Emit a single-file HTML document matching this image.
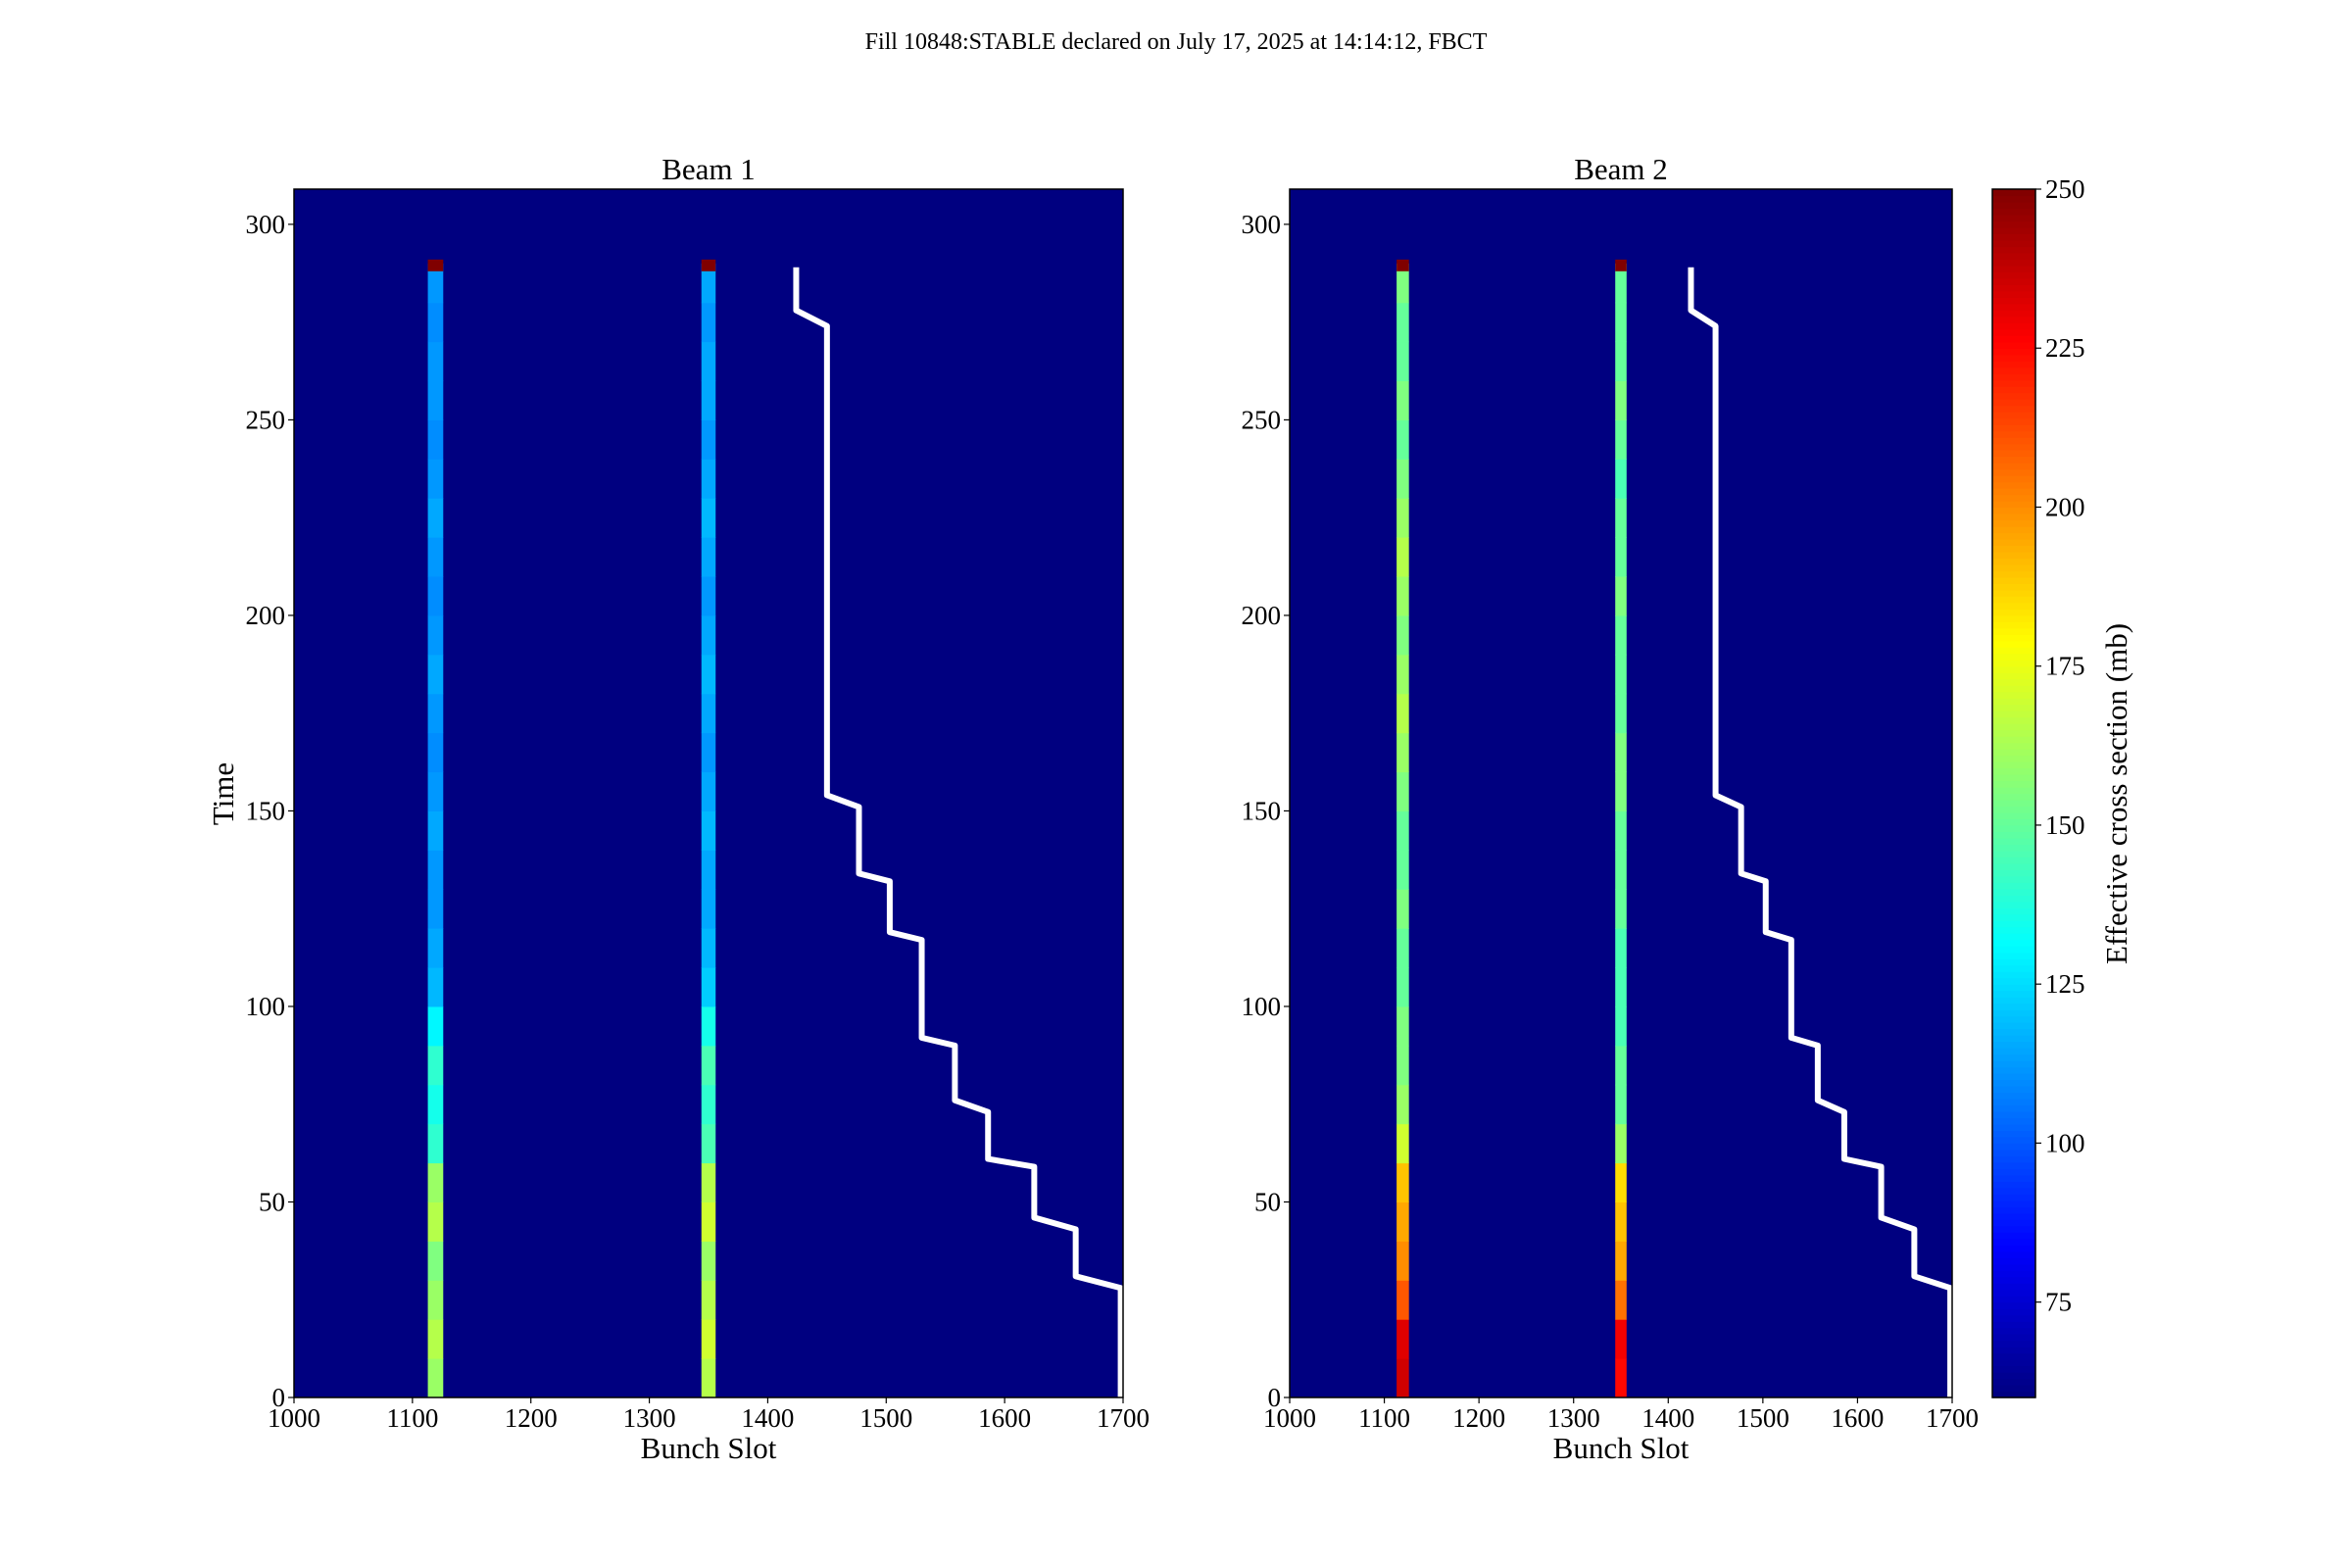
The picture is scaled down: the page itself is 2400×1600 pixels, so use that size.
<!DOCTYPE html>
<html><head><meta charset="utf-8"><style>
body{margin:0;background:#fff}
svg{display:block;font-family:"Liberation Serif",serif}
</style></head><body>
<svg id="fig" width="2400" height="1600" xmlns="http://www.w3.org/2000/svg">
<rect width="2400" height="1600" fill="#fff"/>
<text x="1200" y="50" font-size="24" text-anchor="middle">Fill 10848:STABLE declared on July 17, 2025 at 14:14:12, FBCT</text>
<g id="g1"></g>
<g id="g2"></g>
<g id="cb"></g>
</svg>
<script>
// ---- data ----
const timeBins = [0,10,20,30,40,50,60,70,80,90,100,110,120,130,140,150,160,170,180,190,200,210,220,230,240,250,260,270,280];
const binSize = 10;
const topRow = [288, 291, 250]; // start, end, value
const bunchGroups = [[1113,1126],[1344,1356]];
const b1c1 = [160,165,160,155,165,160,140,135,140,130,118,115,112,112,115,112,110,112,115,112,110,112,115,112,110,112,112,110,112];
const b1c2 = [165,170,165,160,170,165,145,140,145,135,122,118,115,115,118,115,112,115,118,115,112,115,118,115,112,115,115,112,115];
const b2c1 = [235,232,210,200,195,190,170,160,155,155,150,150,155,150,150,155,160,165,160,155,160,165,160,155,150,155,150,150,155];
const b2c2 = [225,228,205,195,190,185,160,150,150,145,145,145,150,150,150,155,155,150,150,150,155,150,150,145,150,155,150,150,150];
const stairX = [1424,1450,1477,1503,1530,1558,1586,1625,1660,1698];
const stairTop = [289,274,151,132,117,90,73,59,43,28];
const stairBot = [278,154,134,119,92,76,61,46,31,0];
const xTicks = [1000,1100,1200,1300,1400,1500,1600,1700];
const yTicks = [0,50,100,150,200,250,300];
const cTicks = [75,100,125,150,175,200,225,250];
const vmin=60, vmax=250;

const NS="http://www.w3.org/2000/svg";
function el(tag,attrs,parent){const e=document.createElementNS(NS,tag);for(const k in attrs)e.setAttribute(k,attrs[k]);parent.appendChild(e);return e;}
function jet(v){
  let t=(v-vmin)/(vmax-vmin);t=Math.max(0,Math.min(1,t));
  const f=(x)=>Math.max(0,Math.min(1,1.5-Math.abs(4*t-x)));
  const r=f(3),g=f(2),b=f(1);
  return `rgb(${Math.round(r*255)},${Math.round(g*255)},${Math.round(b*255)})`;
}
const Y0=1426, Y1=193, YMAX=309;
function sy(v){return Y0-(v/YMAX)*(Y0-Y1);}

function panel(g,L,R,title,cols){
  const sx=v=>L+(v-1000)/700*(R-L);
  el('rect',{x:L,y:Y1,width:R-L,height:Y0-Y1,fill:'#000080'},g);
  cols.forEach((arr,ci)=>{
    const [a,b]=bunchGroups[ci];
    arr.forEach((v,i)=>{
      const c=el('rect',{x:sx(a),y:sy(timeBins[i]+binSize),width:sx(b)-sx(a),height:sy(timeBins[i])-sy(timeBins[i]+binSize)+0.5,fill:jet(v)},g);
      
      
    });
    const t=el('rect',{x:sx(a),y:sy(topRow[1]),width:sx(b)-sx(a),height:sy(topRow[0])-sy(topRow[1]),fill:jet(topRow[2])},g);
    
    
  });
  let d='';
  stairX.forEach((x,i)=>{d+=(i?'L':'M')+sx(x)+','+sy(stairTop[i])+'L'+sx(x)+','+sy(stairBot[i]);});
  const p=el('path',{d:d,fill:'none',stroke:'#fff','stroke-width':6,'stroke-linejoin':'round'},g);
  
  
  el('rect',{x:L,y:Y1,width:R-L,height:Y0-Y1,fill:'none',stroke:'#000','stroke-width':1.5},g);
  xTicks.forEach(v=>{
    el('line',{x1:sx(v),x2:sx(v),y1:Y0,y2:Y0+6,stroke:'#000','stroke-width':1.2},g);
    const t=el('text',{x:sx(v),y:Y0+30,'font-size':27,'text-anchor':'middle'},g);t.textContent=v;
    
    
  });
  yTicks.forEach(v=>{
    el('line',{x1:L-6,x2:L,y1:sy(v),y2:sy(v),stroke:'#000','stroke-width':1.2},g);
    const t=el('text',{x:L-9,y:sy(v)+9,'font-size':27,'text-anchor':'end'},g);t.textContent=v;
    
    
  });
  const tt=el('text',{x:(L+R)/2,y:Y1-10,'font-size':31,'text-anchor':'middle'},g);tt.textContent=title;
  
  
  const xl=el('text',{x:(L+R)/2,y:Y0+62,'font-size':31,'text-anchor':'middle'},g);xl.textContent='Bunch Slot';
  
  
}
panel(document.getElementById('g1'),300,1146,'Beam 1',[b1c1,b1c2]);
panel(document.getElementById('g2'),1316,1992,'Beam 2',[b2c1,b2c2]);
const g1=document.getElementById('g1');
const yl=el('text',{x:0,y:0,'font-size':31,'text-anchor':'middle',transform:'translate(238,810) rotate(-90)'},g1);yl.textContent='Time';



// colorbar
const cb=document.getElementById('cb');
const CL=2033,CR=2077;
const cy=v=>Y0-(v-vmin)/(vmax-vmin)*(Y0-Y1);
for(let v=vmin;v<vmax;v+=1){el('rect',{x:CL,y:cy(v+1),width:CR-CL,height:cy(v)-cy(v+1)+0.6,fill:jet(v+0.5)},cb);}
el('rect',{x:CL,y:Y1,width:CR-CL,height:Y0-Y1,fill:'none',stroke:'#000','stroke-width':1.5},cb);
cTicks.forEach(v=>{
  el('line',{x1:CR,x2:CR+6,y1:cy(v),y2:cy(v),stroke:'#000','stroke-width':1.2},cb);
  const t=el('text',{x:CR+10,y:cy(v)+9,'font-size':27},cb);t.textContent=v;
  
  
});
const cl=el('text',{x:0,y:0,'font-size':31,'text-anchor':'middle',transform:'translate(2170,810) rotate(-90)'},cb);cl.textContent='Effective cross section (mb)';


</script>
</body></html>
